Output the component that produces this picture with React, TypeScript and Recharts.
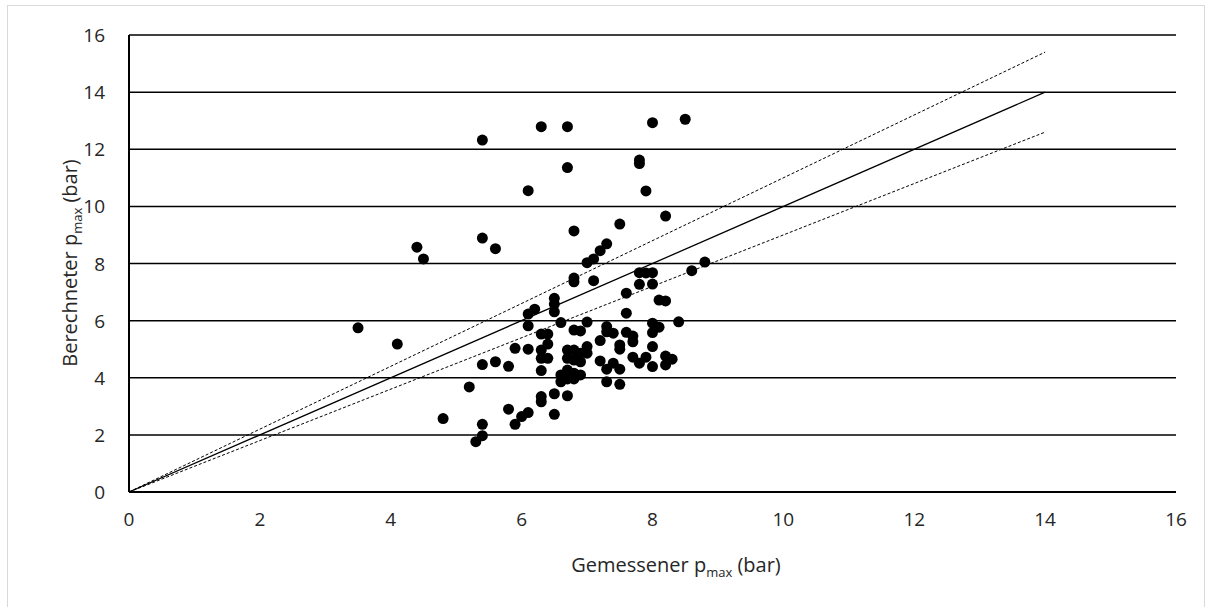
import React from 'react';
import { ScatterChart, Scatter, XAxis, YAxis, CartesianGrid, ReferenceLine, Label } from 'recharts';

const axisTicks = [0, 2, 4, 6, 8, 10, 12, 14, 16];

// measured vs. calculated peak pressure, bar
const measured = [
  5.4, 6.3, 6.7, 8.0, 8.5, 6.7, 7.8, 7.8, 6.1, 7.9,
  6.8, 7.5, 8.2, 5.4, 4.4, 5.6, 4.5, 7.3, 7.2, 7.1,
  7.0, 6.8, 6.8, 7.1, 7.8, 7.9, 8.0, 8.6, 8.8, 7.8,
  8.0, 7.6, 8.1, 8.2, 6.5, 6.5, 6.5, 7.6, 6.1, 6.2,
  3.5, 4.1, 6.1, 6.6, 7.0, 8.0, 8.4, 8.1, 6.8, 6.9,
  7.3, 7.3, 7.4, 7.6, 7.7, 7.7, 8.0, 7.2, 6.3, 6.4,
  6.4, 6.3, 7.5, 7.5, 8.0, 5.9, 6.1, 6.7, 6.8, 6.9,
  7.0, 7.0, 6.4, 6.3, 6.7, 6.8, 6.9, 7.2, 7.3, 7.4,
  7.5, 7.7, 7.8, 7.9, 8.0, 8.2, 8.3, 8.2, 5.4, 5.6,
  5.8, 6.3, 6.6, 6.7, 6.8, 6.9, 6.6, 6.7, 6.8, 7.3,
  7.5, 5.2, 6.3, 6.3, 6.5, 6.7, 4.8, 5.8, 6.0, 6.1,
  5.9, 6.5, 5.4, 5.4, 5.3,
];
const calculated = [
  12.32, 12.79, 12.79, 12.93, 13.05, 11.36, 11.5, 11.62, 10.55, 10.54,
  9.14, 9.38, 9.66, 8.89, 8.57, 8.52, 8.16, 8.69, 8.45, 8.16,
  8.03, 7.49, 7.36, 7.4, 7.68, 7.67, 7.68, 7.75, 8.05, 7.27,
  7.28, 6.96, 6.72, 6.69, 6.78, 6.58, 6.31, 6.26, 6.23, 6.4,
  5.75, 5.18, 5.82, 5.93, 5.95, 5.91, 5.96, 5.77, 5.67, 5.64,
  5.79, 5.61, 5.56, 5.59, 5.46, 5.26, 5.58, 5.3, 5.53, 5.53,
  5.18, 4.97, 5.15, 5.0, 5.09, 5.03, 5.0, 4.97, 4.97, 4.86,
  5.09, 4.86, 4.68, 4.68, 4.68, 4.62, 4.56, 4.59, 4.3, 4.51,
  4.3, 4.72, 4.51, 4.72, 4.39, 4.76, 4.65, 4.45, 4.46, 4.56,
  4.4, 4.25, 4.1, 4.27, 4.16, 4.1, 3.86, 3.96, 3.96, 3.86,
  3.77, 3.68, 3.34, 3.16, 3.44, 3.37, 2.57, 2.9, 2.64, 2.78,
  2.37, 2.72, 2.37, 1.97, 1.76,
];

// 1:1 line and the ±10 % band, drawn up to x = 14
const guideEnd = 14;
const guideSlopes = [1, 1.1, 0.9];

const points = measured.map((x, i) => ({ x, y: calculated[i] }));

const FONT = '"Open Sans", sans-serif';
const TEXT = '#262626';

const Dot = (props: any) => <circle cx={props.cx} cy={props.cy} r={5.5} fill="#000" />;

const XTick = (props: any) => (
  <text x={props.x} y={props.y + 15} textAnchor="middle" fill={TEXT} fontSize={19} fontFamily={FONT}>
    {props.payload.value}
  </text>
);

const YTick = (props: any) => (
  <text x={props.x} y={props.y + 7} textAnchor="end" fill={TEXT} fontSize={19} fontFamily={FONT}>
    {props.payload.value}
  </text>
);

export default function App() {
  return (
    <div style={{ position: 'absolute', left: 0, top: 0, width: 1213, height: 607, overflow: 'hidden' }}>
      <div
        style={{
          position: 'absolute',
          left: 7,
          top: 5,
          width: 1198,
          height: 640,
          border: '1px solid #d9d9d9',
          boxSizing: 'border-box',
        }}
      />
      <div style={{ position: 'absolute', left: 0, top: 0 }}>
        <ScatterChart width={1213} height={607} margin={{ top: 35, right: 37, bottom: 85, left: 69 }}>
          <CartesianGrid vertical={false} stroke="#000" strokeWidth={1.5} horizontalValues={axisTicks} />
          <XAxis
            type="number"
            dataKey="x"
            domain={[0, 16]}
            ticks={axisTicks}
            height={30}
            tickLine={false}
            tickSize={0}
            tickMargin={19}
            axisLine={{ stroke: '#000', strokeWidth: 2 }}
            tick={XTick}
          >
            <Label
              content={() => (
                <text x={676} y={572} textAnchor="middle" fill={TEXT} fontSize={20} fontFamily={FONT}>
                  Gemessener p
                  <tspan fontSize={13} dy={5}>max</tspan>
                  <tspan dy={-5}> (bar)</tspan>
                </text>
              )}
            />
          </XAxis>
          <YAxis
            type="number"
            dataKey="y"
            domain={[0, 16]}
            ticks={axisTicks}
            width={60}
            tickLine={false}
            tickSize={0}
            tickMargin={24}
            axisLine={{ stroke: '#000', strokeWidth: 2 }}
            tick={YTick}
          >
            <Label
              content={() => (
                <text
                  x={77}
                  y={263}
                  transform="rotate(-90 77 263)"
                  textAnchor="middle"
                  fill={TEXT}
                  fontSize={20}
                  fontFamily={FONT}
                >
                  Berechneter p
                  <tspan fontSize={13} dy={5}>max</tspan>
                  <tspan dy={-5}> (bar)</tspan>
                </text>
              )}
            />
          </YAxis>
          {guideSlopes.map((k, i) => (
            <ReferenceLine
              key={k}
              segment={[
                { x: 0, y: 0 },
                { x: guideEnd, y: guideEnd * k },
              ]}
              stroke="#000"
              strokeWidth={i === 0 ? 1.3 : 1}
              strokeDasharray={i === 0 ? undefined : '3 2'}
            />
          ))}
          <Scatter data={points} fill="#000" shape={Dot} isAnimationActive={false} />
        </ScatterChart>
      </div>
    </div>
  );
}
